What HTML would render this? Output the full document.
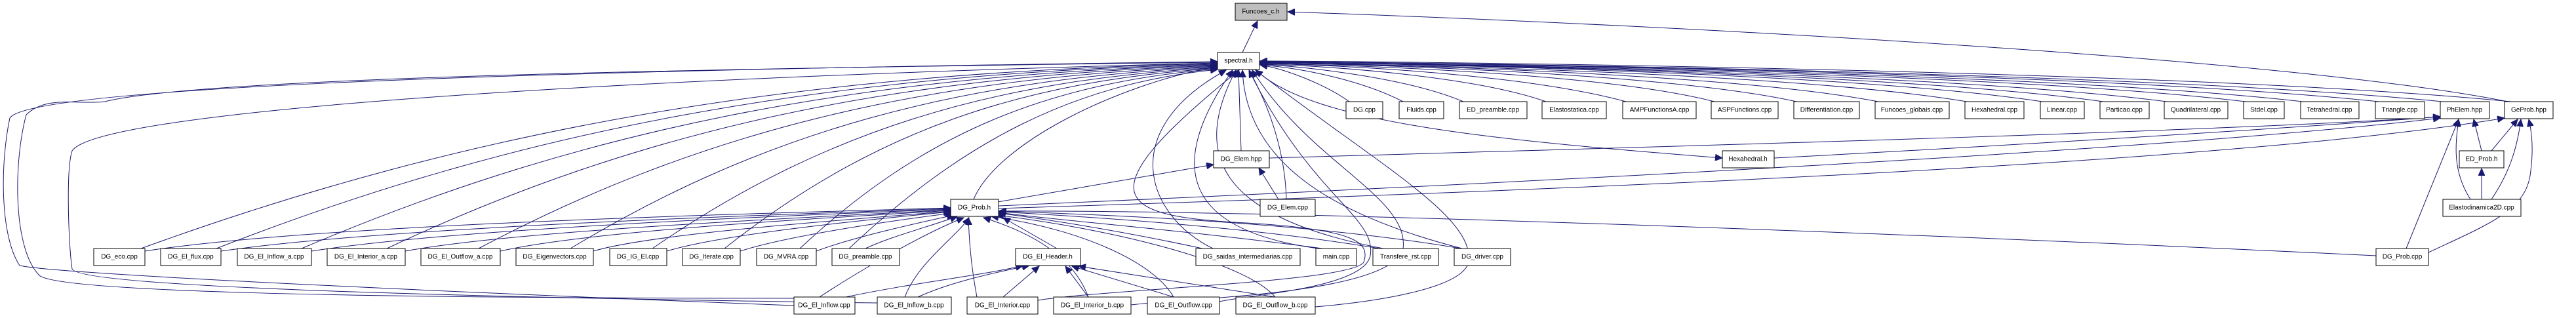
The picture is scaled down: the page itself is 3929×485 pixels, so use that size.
<!DOCTYPE html>
<html><head><meta charset="utf-8"><style>
html,body{margin:0;padding:0;background:#fff;}
svg{display:block}
text{font-family:"Liberation Sans",sans-serif;font-size:10px;fill:#000;text-anchor:middle;dominant-baseline:central}
.b{fill:#fff;stroke:#000;stroke-width:1}
.e path{fill:none;stroke:#191970;stroke-width:1}
</style></head><body>
<svg width="3929" height="485" viewBox="0 0 3929 485" xmlns="http://www.w3.org/2000/svg">
<defs><marker id="a" markerUnits="userSpaceOnUse" markerWidth="12" markerHeight="10" refX="11" refY="5" orient="auto"><path d="M0,0 L11,5 L0,10 z" fill="#191970" stroke="#191970"/></marker></defs>
<g class="e" marker-end="url(#a)">
<path d="M1895,80 L1918,32"/>
<path d="M3825,155 C3500,90 2600,40 1964,18"/>
<path d="M2058,155 C2020,128 1960,105 1922,99"/>
<path d="M2140,155 C2080,124 1990,104 1922,99"/>
<path d="M2232,155 C2150,120 2000,102 1922,98"/>
<path d="M2358,155 C2250,117 2030,100 1922,98"/>
<path d="M2480,155 C2330,114 2050,99 1922,97"/>
<path d="M2615,155 C2442,110 2026,98 1922,97"/>
<path d="M2740,155 C2536,110 2045,97 1922,96"/>
<path d="M2865,155 C2629,110 2063,97 1922,96"/>
<path d="M3000,155 C2731,110 2084,97 1922,96"/>
<path d="M3115,155 C2817,110 2101,96 1922,95"/>
<path d="M3208,155 C2887,110 2115,96 1922,95"/>
<path d="M3305,155 C2959,110 2129,96 1922,95"/>
<path d="M3425,155 C3049,110 2147,96 1922,95"/>
<path d="M3512,155 C3115,110 2160,95 1922,94"/>
<path d="M3628,155 C3202,110 2178,95 1922,94"/>
<path d="M3725,155 C3274,110 2192,95 1922,94"/>
<path d="M3830,155 C3349,108 2207,94 1922,93"/>
<path d="M1893,230 L1889,107"/>
<path d="M1936,241 C2600,222 3400,200 3722,178"/>
<path d="M1915,106 C2000,190 2300,215 2627,241"/>
<path d="M2706,241 C3100,220 3500,195 3722,178"/>
<path d="M1950,304 L1920,256"/>
<path d="M1962,304 C1960,230 1935,160 1905,107"/>
<path d="M1522,308 L1851,251"/>
<path d="M1523,314 C2300,280 3300,230 3722,180"/>
<path d="M1523,318 C2400,290 3400,250 3820,180"/>
<path d="M1485,304 C1520,220 1700,130 1857,101"/>
<path d="M3785,230 L3773,182"/>
<path d="M3800,230 L3840,182"/>
<path d="M3785,304 L3785,257"/>
<path d="M3768,304 C3740,260 3745,220 3750,182"/>
<path d="M3800,304 C3830,260 3840,220 3845,182"/>
<path d="M3624,390 C3000,360 2000,320 1524,322"/>
<path d="M3670,379 L3750,182"/>
<path d="M3704,385 C3800,340 3855,320 3860,260 C3865,220 3860,195 3857,182"/>
<path d="M215,379 C708,200 1200,110 1857,97"/>
<path d="M330,379 C788,200 1246,112 1857,98"/>
<path d="M460,379 C879,200 1298,114 1857,99"/>
<path d="M590,379 C970,200 1350,116 1857,100"/>
<path d="M730,379 C1068,200 1406,118 1857,101"/>
<path d="M870,379 C1166,200 1462,120 1857,102"/>
<path d="M995,379 C1254,200 1512,122 1857,103"/>
<path d="M1105,379 C1331,200 1556,124 1857,104"/>
<path d="M1220,379 C1411,200 1602,126 1857,105"/>
<path d="M1295,379 C1464,220 1632,128 1857,106"/>
<path d="M221,383 C500,340 1200,325 1450,317"/>
<path d="M337,383 C600,345 1200,327 1450,318"/>
<path d="M475,383 C700,348 1200,329 1450,319"/>
<path d="M618,383 C800,350 1250,331 1450,320"/>
<path d="M763,383 C900,352 1250,333 1450,321"/>
<path d="M905,383 C1000,355 1300,335 1450,322"/>
<path d="M1017,383 C1100,358 1300,337 1450,323"/>
<path d="M1129,383 C1200,360 1350,338 1452,325"/>
<path d="M1245,383 C1300,362 1400,340 1455,328"/>
<path d="M1320,379 C1360,360 1420,345 1460,330"/>
<path d="M1612,379 L1530,332"/>
<path d="M1834,379 C1700,350 1600,335 1523,325"/>
<path d="M2017,379 C1800,350 1600,335 1523,324"/>
<path d="M2104,379 C1900,345 1650,330 1523,323"/>
<path d="M2228,379 C2000,340 1700,328 1523,322"/>
<path d="M1850,379 C1750,330 1700,200 1870,107"/>
<path d="M2010,379 C1800,350 1780,250 1880,107"/>
<path d="M2110,379 C1850,330 1820,230 1885,107"/>
<path d="M2230,379 C2000,320 1900,230 1895,107"/>
<path d="M1250,453 C1300,420 1400,360 1470,332"/>
<path d="M1380,453 C1400,400 1460,360 1478,332"/>
<path d="M1490,453 C1480,400 1478,360 1477,332"/>
<path d="M1660,453 C1640,400 1590,360 1500,332"/>
<path d="M1790,453 C1760,400 1650,350 1512,330"/>
<path d="M1945,453 C1900,400 1700,350 1520,328"/>
<path d="M1290,453 C1400,430 1500,420 1560,405"/>
<path d="M1400,453 C1450,430 1520,415 1570,405"/>
<path d="M1530,453 L1585,406"/>
<path d="M1660,453 L1625,406"/>
<path d="M1790,453 L1635,406"/>
<path d="M1945,453 L1645,406"/>
<path d="M1211,466 C800,450 100,420 30,405 C0,360 0,250 15,180 C40,140 600,110 1857,94"/>
<path d="M1240,455 C1000,455 100,455 60,420 C20,380 20,250 40,175 C70,145 120,160 160,155 C300,120 1000,105 1857,95"/>
<path d="M1338,462 C800,455 120,440 110,410 C105,380 100,260 110,230 C150,170 900,120 1857,96"/>
<path d="M1725,465 C1800,455 2120,450 2140,380 C2150,300 2000,250 1910,107"/>
<path d="M1860,460 C1900,450 2080,440 2090,390 C2100,330 2000,300 1905,107"/>
<path d="M2006,468 C2100,460 2230,440 2240,400 C2250,330 2100,250 1915,107"/>
<path d="M1583,458 C1700,440 2060,430 2080,400 C2090,370 2070,350 1900,340 C1700,330 1650,300 1890,107"/>
</g>
<g>
<rect class="b" x="1884" y="5" width="79" height="26" style="fill:#bfbfbf"/><text x="1923" y="18">Funcoes_c.h</text>
<rect class="b" x="1857" y="80" width="64" height="26"/><text x="1889" y="93">spectral.h</text>
<rect class="b" x="2053" y="155" width="56" height="26"/><text x="2081" y="168">DG.cpp</text>
<rect class="b" x="2134" y="155" width="68" height="26"/><text x="2168" y="168">Fluids.cpp</text>
<rect class="b" x="2226" y="155" width="103" height="26"/><text x="2277" y="168">ED_preamble.cpp</text>
<rect class="b" x="2352" y="155" width="98" height="26"/><text x="2401" y="168">Elastostatica.cpp</text>
<rect class="b" x="2475" y="155" width="112" height="26"/><text x="2531" y="168">AMPFunctionsA.cpp</text>
<rect class="b" x="2610" y="155" width="102" height="26"/><text x="2661" y="168">ASPFunctions.cpp</text>
<rect class="b" x="2736" y="155" width="100" height="26"/><text x="2786" y="168">Differentiation.cpp</text>
<rect class="b" x="2860" y="155" width="113" height="26"/><text x="2916" y="168">Funcoes_globais.cpp</text>
<rect class="b" x="2997" y="155" width="90" height="26"/><text x="3042" y="168">Hexahedral.cpp</text>
<rect class="b" x="3112" y="155" width="67" height="26"/><text x="3145" y="168">Linear.cpp</text>
<rect class="b" x="3203" y="155" width="75" height="26"/><text x="3240" y="168">Particao.cpp</text>
<rect class="b" x="3301" y="155" width="97" height="26"/><text x="3349" y="168">Quadrilateral.cpp</text>
<rect class="b" x="3422" y="155" width="62" height="26"/><text x="3453" y="168">Stdel.cpp</text>
<rect class="b" x="3509" y="155" width="89" height="26"/><text x="3553" y="168">Tetrahedral.cpp</text>
<rect class="b" x="3623" y="155" width="75" height="26"/><text x="3660" y="168">Triangle.cpp</text>
<rect class="b" x="3722" y="155" width="75" height="26"/><text x="3759" y="168">PhElem.hpp</text>
<rect class="b" x="3820" y="155" width="74" height="26"/><text x="3857" y="168">GeProb.hpp</text>
<rect class="b" x="1851" y="230" width="85" height="26"/><text x="1893" y="243">DG_Elem.hpp</text>
<rect class="b" x="2627" y="230" width="79" height="26"/><text x="2666" y="243">Hexahedral.h</text>
<rect class="b" x="3751" y="230" width="68" height="26"/><text x="3785" y="243">ED_Prob.h</text>
<rect class="b" x="1450" y="304" width="73" height="26"/><text x="1486" y="317">DG_Prob.h</text>
<rect class="b" x="1922" y="304" width="84" height="26"/><text x="1964" y="317">DG_Elem.cpp</text>
<rect class="b" x="3726" y="304" width="119" height="26"/><text x="3785" y="317">Elastodinamica2D.cpp</text>
<rect class="b" x="143" y="379" width="78" height="26"/><text x="182" y="392">DG_eco.cpp</text>
<rect class="b" x="245" y="379" width="92" height="26"/><text x="291" y="392">DG_El_flux.cpp</text>
<rect class="b" x="362" y="379" width="113" height="26"/><text x="418" y="392">DG_El_Inflow_a.cpp</text>
<rect class="b" x="499" y="379" width="119" height="26"/><text x="558" y="392">DG_El_Interior_a.cpp</text>
<rect class="b" x="642" y="379" width="121" height="26"/><text x="702" y="392">DG_El_Outflow_a.cpp</text>
<rect class="b" x="787" y="379" width="118" height="26"/><text x="846" y="392">DG_Eigenvectors.cpp</text>
<rect class="b" x="930" y="379" width="87" height="26"/><text x="973" y="392">DG_IG_El.cpp</text>
<rect class="b" x="1041" y="379" width="88" height="26"/><text x="1085" y="392">DG_Iterate.cpp</text>
<rect class="b" x="1154" y="379" width="91" height="26"/><text x="1199" y="392">DG_MVRA.cpp</text>
<rect class="b" x="1269" y="379" width="103" height="26"/><text x="1320" y="392">DG_preamble.cpp</text>
<rect class="b" x="1549" y="379" width="99" height="26"/><text x="1598" y="392">DG_El_Header.h</text>
<rect class="b" x="1824" y="379" width="159" height="26"/><text x="1903" y="392">DG_saidas_intermediarias.cpp</text>
<rect class="b" x="2007" y="379" width="62" height="26"/><text x="2038" y="392">main.cpp</text>
<rect class="b" x="2094" y="379" width="100" height="26"/><text x="2144" y="392">Transfere_rst.cpp</text>
<rect class="b" x="2218" y="379" width="86" height="26"/><text x="2261" y="392">DG_driver.cpp</text>
<rect class="b" x="3624" y="379" width="80" height="26"/><text x="3664" y="392">DG_Prob.cpp</text>
<rect class="b" x="1211" y="453" width="93" height="26"/><text x="1257" y="466">DG_El_Inflow.cpp</text>
<rect class="b" x="1338" y="453" width="113" height="26"/><text x="1394" y="466">DG_El_Inflow_b.cpp</text>
<rect class="b" x="1475" y="453" width="108" height="26"/><text x="1529" y="466">DG_El_Interior.cpp</text>
<rect class="b" x="1607" y="453" width="118" height="26"/><text x="1666" y="466">DG_El_Interior_b.cpp</text>
<rect class="b" x="1750" y="453" width="110" height="26"/><text x="1805" y="466">DG_El_Outflow.cpp</text>
<rect class="b" x="1885" y="453" width="121" height="26"/><text x="1945" y="466">DG_El_Outflow_b.cpp</text>
</g>
</svg>
</body></html>
